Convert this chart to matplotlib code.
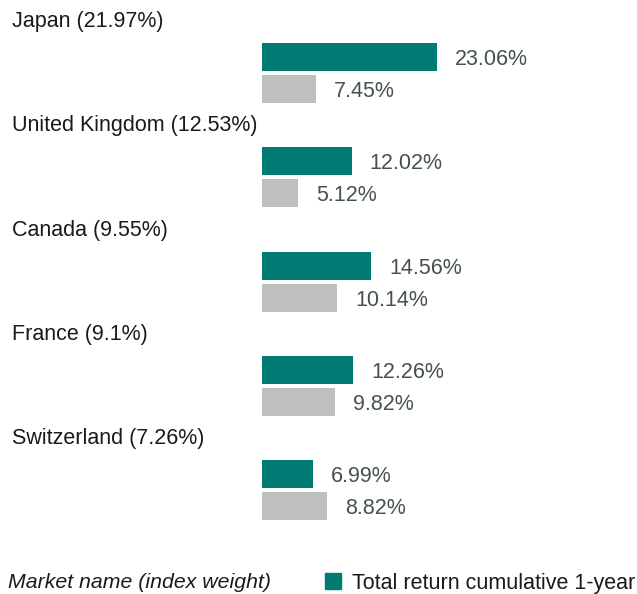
import matplotlib.pyplot as plt
from matplotlib.patches import Rectangle
import numpy as np

markets = ["Japan", "United Kingdom", "Canada", "France", "Switzerland"]
weights = ["21.97%", "12.53%", "9.55%", "9.1%", "7.26%"]
total_1y = [23.06, 12.02, 14.56, 12.26, 6.99]
second_series = [7.45, 5.12, 10.14, 9.82, 8.82]

TEAL = "#007A73"
GREY = "#BFBFBF"
VAL_COLOR = "#44524F"
FS = 15.5

plt.rcParams['font.family'] = ['Liberation Sans', 'DejaVu Sans']

W, H = 637, 594
fig = plt.figure(figsize=(W / 100, H / 100), dpi=100)

# axes starts where bars start (zero sits a little left of it), y in pixel rows
x0 = 262.3
px_per_pct = 7.73
lo = 3.6 / px_per_pct
ax = fig.add_axes([x0 / W, 0, (W - x0) / W, 1])
ax.set_xlim(lo, lo + (W - x0) / px_per_pct)
ax.set_ylim(H, 0)
ax.axis('off')

pitch = 104.3
y_teal = 57 + pitch * np.arange(len(markets))
y_grey = y_teal + 32
bar_h = 28

ax.barh(y_teal, total_1y, height=bar_h, color=TEAL)
ax.barh(y_grey, second_series, height=bar_h, color=GREY)

for y, v in zip(y_teal, total_1y):
    ax.annotate(f"{v:.2f}%", (v, y), xytext=(13, 0), textcoords='offset points',
                va='center_baseline', ha='left', fontsize=FS, color=VAL_COLOR)
for y, v in zip(y_grey, second_series):
    ax.annotate(f"{v:.2f}%", (v, y), xytext=(13, 0), textcoords='offset points',
                va='center_baseline', ha='left', fontsize=FS, color=VAL_COLOR)

# market labels
for i, (m, w) in enumerate(zip(markets, weights)):
    yc = 19 + pitch * i
    fig.text(12 / W, 1 - yc / H, f"{m} ({w})", fontsize=FS, color="#1a1a1a",
             va='center_baseline', ha='left')

# legend row
fig.text(8 / W, 1 - 581 / H, "Market name (index weight)", fontsize=15.3,
         style='italic', color="#1a1a1a", va='center_baseline', ha='left')
fig.patches.append(Rectangle((325 / W, 1 - 589 / H), 16 / W, 16 / H,
                             transform=fig.transFigure, color=TEAL))
fig.text(352 / W, 1 - 581 / H, "Total return cumulative 1-year", fontsize=FS,
         color="#1a1a1a", va='center_baseline', ha='left')

fig.savefig("out.png", dpi=100)
